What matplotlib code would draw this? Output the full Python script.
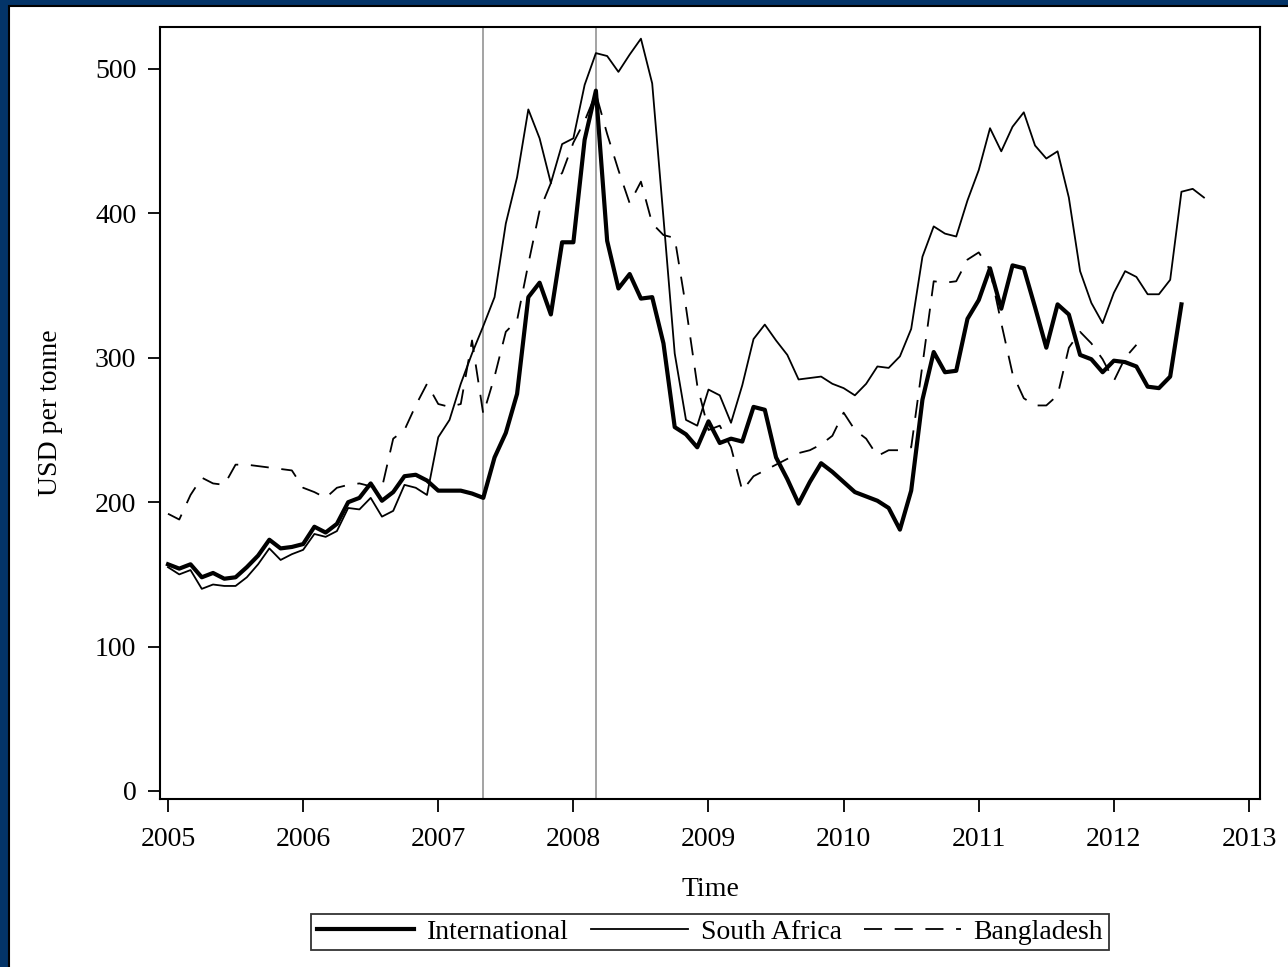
import matplotlib.pyplot as plt
from matplotlib.patches import Rectangle

# monthly prices, USD per tonne, starting January 2005
international = [
    157, 154, 157, 148, 151, 147, 148, 155, 163, 174, 168, 169,
    171, 183, 179, 185, 200, 203, 213, 201, 207, 218, 219, 215,
    208, 208, 208, 206, 203, 231, 248, 275, 342, 352, 330, 380,
    380, 451, 485, 381, 348, 358, 341, 342, 310, 252, 247, 238,
    256, 241, 244, 242, 266, 264, 231, 216, 199, 214, 227, 221,
    214, 207, 204, 201, 196, 181, 208, 271, 304, 290, 291, 327,
    340, 362, 334, 364, 362, 335, 307, 337, 330, 302, 299, 290,
    298, 297, 294, 280, 279, 287, 337,
]
south_africa = [
    155, 150, 153, 140, 143, 142, 142, 148, 157, 168, 160, 164,
    167, 178, 176, 180, 196, 195, 203, 190, 194, 212, 210, 205,
    245, 257, 282, 303, 322, 342, 393, 425, 472, 452, 421, 448,
    452, 489, 511, 509, 498, 510, 521, 490, 397, 303, 257, 253,
    278, 274, 255, 281, 313, 323, 312, 302, 285, 286, 287, 282,
    279, 274, 282, 294, 293, 301, 320, 370, 391, 386, 384, 409,
    430, 459, 443, 460, 470, 447, 438, 443, 411, 360, 338, 324,
    345, 360, 356, 344, 344, 354, 415, 417, 411,
]
bangladesh = [
    192, 188, 205, 217, 213, 212, 226, 226, 225, 224, 223, 222,
    210, 207, 203, 210, 212, 213, 211, 210, 244, 250, 267, 282,
    268, 266, 268, 312, 261, 287, 318, 326, 365, 402, 421, 428,
    449, 464, 483, 455, 430, 407, 422, 393, 385, 383, 335, 281,
    250, 253, 238, 208, 218, 222, 226, 230, 234, 236, 240, 246,
    262, 250, 244, 232, 236, 236, 238, 295, 353, 352, 353, 368,
    373, 361, 324, 289, 272, 267, 267, 274, 307, 318, 310, 299,
    284, 300, 309,
]
start_year = 2005
event_lines = [2007 + 4 / 12, 2008 + 2 / 12]
x_ticks = list(range(2005, 2014))
y_ticks = list(range(0, 501, 100))


def month_axis(values):
    return [start_year + i / 12 for i in range(len(values))]


plt.rcParams["font.family"] = ["Liberation Serif", "DejaVu Serif"]

W, H = 1288, 967
fig = plt.figure(figsize=(W / 100, H / 100), dpi=100)
fig.patch.set_facecolor("#033468")
fig.patches.append(Rectangle((9 / W, -0.01), 1, (H - 6) / H + 0.01, transform=fig.transFigure,
                             facecolor="white", edgecolor="black", linewidth=1.5, zorder=-10))

ax = fig.add_axes([160 / W, 1 - 799 / H, 1100 / W, 772 / H])
ax.set_facecolor("white")

for xv in event_lines:
    ax.axvline(xv, color="#8a8a8a", linewidth=1.1, zorder=1)

ax.plot(month_axis(international), international, color="black", linewidth=3.0,
        label="International", zorder=3)
ax.plot(month_axis(south_africa), south_africa, color="black", linewidth=1.3,
        label="South Africa", zorder=2)
ax.plot(month_axis(bangladesh), bangladesh, color="black", linewidth=1.3,
        dashes=(10, 7), label="Bangladesh", zorder=2)

ax.set_xlim(2005 - 8 / 135.1, 2013 + 11 / 135.1)
ax.set_ylim(-8 / 1.444, 500 + 42 / 1.444)
ax.set_xticks(x_ticks)
ax.set_yticks(y_ticks)
ax.tick_params(direction="out", length=9, width=1.3, labelsize=20, pad=8)
ax.tick_params(axis="x", pad=11)
for spine in ax.spines.values():
    spine.set_linewidth(1.5)

ax.set_xlabel("Time", fontsize=20, labelpad=18)
ax.set_ylabel("USD per tonne", fontsize=20, labelpad=23)

leg = ax.legend(loc="center", bbox_to_anchor=(710 / W, 1 - 932 / H),
                bbox_transform=fig.transFigure, ncol=3, fontsize=20, frameon=True,
                fancybox=False, edgecolor="black", handlelength=3.5,
                columnspacing=0.8, handletextpad=0.45, borderpad=0.2,
                borderaxespad=0)
leg.get_frame().set_linewidth(1.3)

fig.savefig("out.png", dpi=100, facecolor=fig.get_facecolor())
